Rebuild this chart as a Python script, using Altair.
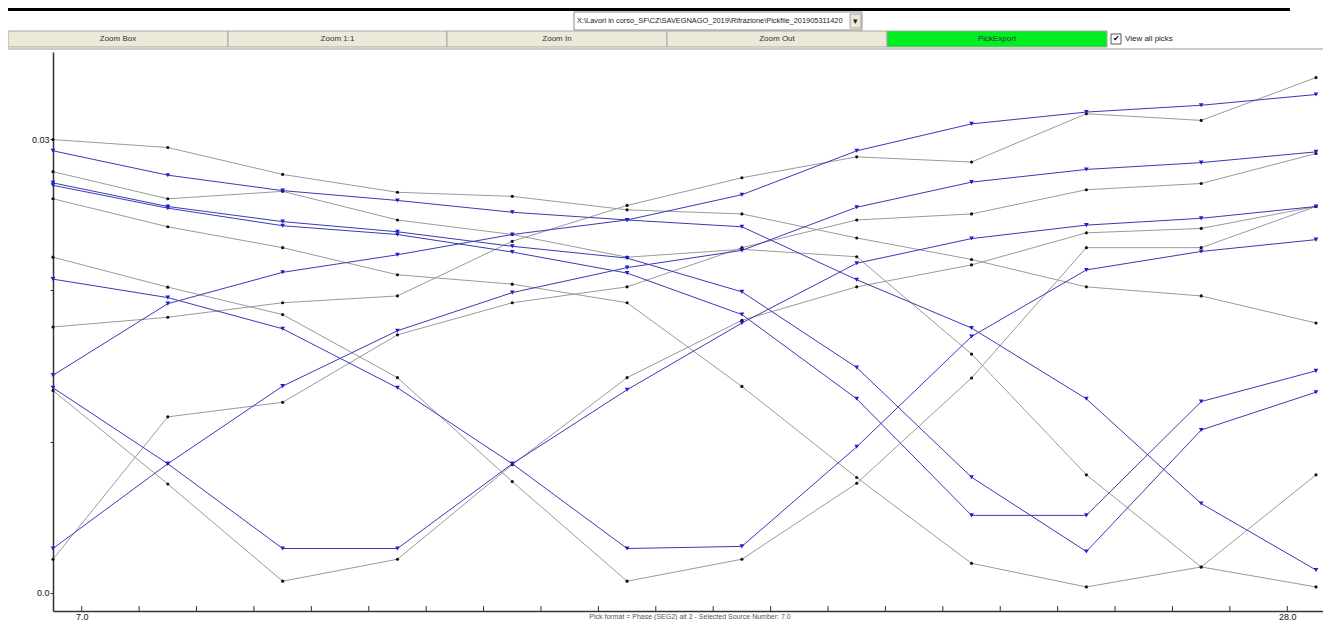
import altair as alt
import pandas as pd

# ---------------- data ----------------
positions = [6.5, 8.5, 10.5, 12.5, 14.5, 16.5, 18.5, 20.5, 22.5, 24.5, 26.5, 28.5]

# current pick file (blue)
blue_1 = [0.01439, 0.01912, 0.02119, 0.02235, 0.02369, 0.02465, 0.02632, 0.02922, 0.03100, 0.03178, 0.03223, 0.03294]
blue_2 = [0.00294, 0.00854, 0.01367, 0.01733, 0.01985, 0.02150, 0.02264, 0.02549, 0.02715, 0.02799, 0.02844, 0.02915]
blue_3 = [0.01356, 0.00854, 0.00294, 0.00294, 0.00854, 0.01343, 0.01784, 0.02179, 0.02342, 0.02431, 0.02476, 0.02554]
blue_4 = [0.02074, 0.01952, 0.01746, 0.01356, 0.00854, 0.00294, 0.00308, 0.00966, 0.01695, 0.02135, 0.02257, 0.02335]
blue_5 = [0.02922, 0.02761, 0.02659, 0.02594, 0.02516, 0.02465, 0.02420, 0.02070, 0.01751, 0.01283, 0.00591, 0.00152]
blue_6 = [0.02710, 0.02554, 0.02454, 0.02387, 0.02291, 0.02213, 0.01990, 0.01490, 0.00765, 0.00274, 0.01077, 0.01327]
blue_7 = [0.02694, 0.02543, 0.02427, 0.02369, 0.02253, 0.02114, 0.01840, 0.01283, 0.00513, 0.00513, 0.01265, 0.01468]

# all picks (grey lines, black dots)
black_1 = [0.02996, 0.02944, 0.02766, 0.02648, 0.02621, 0.02532, 0.02505, 0.02346, 0.02204, 0.02023, 0.01963, 0.01784]
black_2 = [0.02784, 0.02605, 0.02654, 0.02465, 0.02369, 0.02219, 0.02271, 0.02222, 0.01579, 0.00781, 0.00172, 0.00040]
black_3 = [0.01758, 0.01822, 0.01918, 0.01963, 0.02324, 0.02561, 0.02744, 0.02882, 0.02848, 0.03167, 0.03123, 0.03406]
black_4 = [0.00223, 0.01164, 0.01260, 0.01706, 0.01918, 0.02023, 0.02282, 0.02465, 0.02505, 0.02665, 0.02706, 0.02904]
black_5 = [0.01338, 0.00720, 0.00078, 0.00223, 0.00848, 0.01423, 0.01802, 0.02023, 0.02168, 0.02380, 0.02409, 0.02554]
black_6 = [0.02219, 0.02021, 0.01840, 0.01423, 0.00736, 0.00078, 0.00223, 0.00725, 0.01421, 0.02282, 0.02282, 0.02554]
black_7 = [0.02605, 0.02420, 0.02282, 0.02103, 0.02041, 0.01918, 0.01365, 0.00763, 0.00196, 0.00040, 0.00172, 0.00781]

x_ticks = list(range(7, 29))
y_ticks = [0.0, 0.01, 0.02, 0.03]

button_labels = ["Zoom Box", "Zoom 1:1", "Zoom In", "Zoom Out", "PickExport"]
file_path = "X:\\Lavori in corso_SF\\CZ\\SAVEGNAGO_2019\\Rifrazione\\Pickfile_201905311420"
checkbox_label = "View all picks"
status_text = "Pick format = Phase (SEG2) alt 2 - Selected Source Number: 7.0"

blue_picks = [blue_1, blue_2, blue_3, blue_4, blue_5, blue_6, blue_7]
black_picks = [black_1, black_2, black_3, black_4, black_5, black_6, black_7]

rows = []
for i, s in enumerate(black_picks):
    for p, t in zip(positions, s):
        rows.append({"trace": f"k{i}", "kind": "all", "pos": p, "t": t})
for i, s in enumerate(blue_picks):
    for p, t in zip(positions, s):
        rows.append({"trace": f"b{i}", "kind": "current", "pos": p, "t": t})
df = pd.DataFrame(rows)
df_black = df[df.kind == "all"]
df_blue = df[df.kind == "current"]

# ---------------- layout ----------------
W, H = 1270, 559
PAD_L, PAD_T = 45, 44
TOTAL_H = 612
FONT = "Liberation Sans, Arial, sans-serif"

xs = alt.Scale(domain=[6.5, 28.622], nice=False, zero=False)
ys = alt.Scale(domain=[-0.00119, 0.03575], nice=False, zero=False)

x_axis = alt.Axis(values=x_ticks, title=None, grid=False, ticks=False,
                  labelExpr="datum.value == 7 ? '7.0' : (datum.value == 28 ? '28.0' : '')",
                  labelFont=FONT, labelFontSize=9, labelColor="#111111", labelPadding=1,
                  labelOverlap=False, labelFlush=False,
                  domainColor="#333333", domainWidth=1.5)
y_axis = alt.Axis(values=y_ticks, title=None, grid=False,
                  labelExpr="datum.value == 0 ? '0.0' : (datum.value > 0.029 ? '0.03' : '')",
                  labelFont=FONT, labelFontSize=9, labelColor="#111111", labelPadding=1,
                  labelOverlap=False, tickSize=3, tickColor="#333333",
                  domainColor="#333333", domainWidth=1.5)


def enc_xy():
    return dict(x=alt.X("pos:Q", scale=xs, axis=x_axis),
                y=alt.Y("t:Q", scale=ys, axis=y_axis))


grey_lines = alt.Chart(df_black).mark_line(strokeWidth=1, color="#9a9a9a").encode(
    detail="trace:N", order="pos:Q", **enc_xy())
blue_lines = alt.Chart(df_blue).mark_line(strokeWidth=1, color="#3a3ab4").encode(
    detail="trace:N", order="pos:Q", **enc_xy())
black_dots = alt.Chart(df_black).mark_circle(size=10, color="#111111", opacity=1).encode(**enc_xy())
blue_marks = alt.Chart(df_blue).mark_point(shape="triangle-down", filled=True, size=22,
                                           color="#1e1ecc", opacity=1).encode(**enc_xy())
inner_ticks = alt.Chart(pd.DataFrame({"pos": x_ticks})).mark_rule(color="#333333", strokeWidth=1).encode(
    x=alt.X("pos:Q", scale=xs, axis=x_axis),
    y=alt.value(H),
    y2=alt.value(H - 5),
)

# ---------------- GUI decorations (pixel positions relative to plot origin) ----------------
one = pd.DataFrame({"a": [0]})


def rect(x0, x1, y0, y1, fill, stroke=None, sw=1):
    kw = dict(fill=fill)
    if stroke:
        kw.update(stroke=stroke, strokeWidth=sw)
    return alt.Chart(one).mark_rect(**kw).encode(
        x=alt.value(x0), x2=alt.value(x1), y=alt.value(y0), y2=alt.value(y1))


def text(x, y, s, size=9, align="left", color="#222222"):
    return alt.Chart(one).mark_text(align=align, baseline="middle", font=FONT,
                                    fontSize=size, color=color).encode(
        x=alt.value(x), y=alt.value(y), text=alt.value(s))


deco = []
deco.append(rect(-45, 1237, -44, -41, "#000000"))
# file dropdown
deco.append(rect(521, 809, -40, -22, "#ffffff", "#8a8a8a"))
deco.append(rect(797, 808, -38, -24, "#ece9d8", "#a0a0a0"))
deco.append(text(802.5, -31, "▾", size=9, align="center"))
deco.append(text(524, -31, file_path, size=7.4))
# button row
edges = [-45, 175, 394, 614, 834, 1054]
for i, lab in enumerate(button_labels):
    fill = "#00ee22" if lab == "PickExport" else "#ece9d8"
    deco.append(rect(edges[i], edges[i + 1], -21, -5, fill, "#a8a8a0"))
    deco.append(text((edges[i] + edges[i + 1]) / 2, -13, lab, size=8, align="center",
                     color="#333333"))
# checkbox
deco.append(rect(1058, 1068, -18, -8, "#ffffff", "#555555"))
deco.append(text(1063, -13, "✔", size=8, align="center", color="#000000"))
deco.append(text(1072, -13, checkbox_label, size=8))
# separator under buttons
deco.append(alt.Chart(one).mark_rule(color="#9a9a9a", strokeWidth=1).encode(
    x=alt.value(-45), x2=alt.value(W), y=alt.value(-3)))
# status bar text
deco.append(text(637, 565, status_text, size=7, align="center", color="#555555"))

chart = alt.layer(grey_lines, blue_lines, black_dots, blue_marks, inner_ticks, *deco).properties(
    width=W,
    height=H,
    padding={"left": PAD_L, "top": PAD_T, "right": 0, "bottom": TOTAL_H - PAD_T - H},
    autosize=alt.AutoSizeParams(type="none"),
    background="#ffffff",
).configure_view(stroke=None)

chart.save("out.html", embed_options={"renderer": "svg", "actions": False})
